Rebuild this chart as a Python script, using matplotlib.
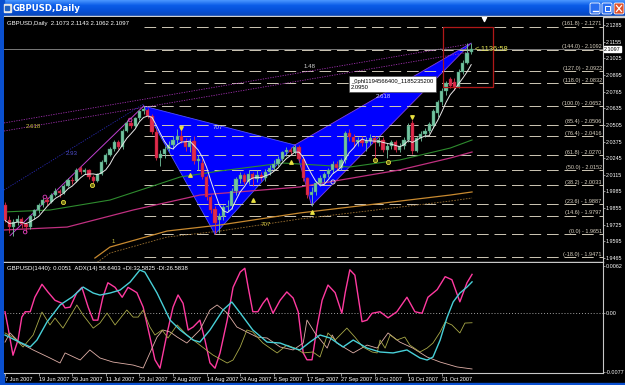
import matplotlib
matplotlib.use('Agg')
import matplotlib.pyplot as plt
import matplotlib.patches as mpatches
from matplotlib.colors import LinearSegmentedColormap
import numpy as np
import pandas as pd

plt.rcParams['font.family'] = ['Liberation Sans', 'DejaVu Sans']

# ---------------------------------------------------------------
# GBPUSD Daily, bar 0 = 7 Jun 2007 ... bar 111 = 9 Nov 2007
# ---------------------------------------------------------------
opens = [1.9880, 1.9760, 1.9710, 1.9745, 1.9770, 1.9730, 1.9710, 1.9790, 1.9840, 1.9880,
         1.9920, 1.9905, 1.9960, 1.9990, 1.9975, 2.0030, 2.0075, 2.0065, 2.0170, 2.0140,
         2.0155, 2.0095, 2.0070, 2.0120, 2.0215, 2.0270, 2.0320, 2.0370, 2.0330, 2.0460,
         2.0520, 2.0500, 2.0555, 2.0610, 2.0625, 2.0575, 2.0450, 2.0250, 2.0280, 2.0320,
         2.0345, 2.0390, 2.0420, 2.0380, 2.0330, 2.0380, 2.0220, 2.0210, 2.0100, 1.9940,
         1.9850, 1.9760, 1.9790, 1.9860, 1.9870, 1.9990, 2.0080, 2.0110, 2.0060, 2.0120,
         2.0080, 2.0110, 2.0090, 2.0140, 2.0170, 2.0200, 2.0240, 2.0290, 2.0310, 2.0290,
         2.0330, 2.0240, 2.0090, 1.9960, 1.9980, 2.0050, 2.0090, 2.0120, 2.0150, 2.0200,
         2.0170, 2.0230, 2.0440, 2.0410, 2.0370, 2.0390, 2.0360, 2.0380, 2.0400, 2.0360,
         2.0390, 2.0310, 2.0340, 2.0370, 2.0310, 2.0340, 2.0390, 2.0520, 2.0300, 2.0400,
         2.0430, 2.0460, 2.0500, 2.0600, 2.0680, 2.0770, 2.0860, 2.0840, 2.0800, 2.0920,
         2.0990, 2.1073]
highs = [1.9905, 1.9790, 1.9770, 1.9800, 1.9785, 1.9750, 1.9800, 1.9850, 1.9895, 1.9935,
         1.9940, 1.9975, 2.0010, 2.0005, 2.0045, 2.0090, 2.0095, 2.0165, 2.0185, 2.0170,
         2.0160, 2.0110, 2.0130, 2.0230, 2.0285, 2.0335, 2.0385, 2.0390, 2.0475, 2.0540,
         2.0545, 2.0570, 2.0625, 2.0652, 2.0640, 2.0590, 2.0470, 2.0310, 2.0340, 2.0380,
         2.0420, 2.0470, 2.0480, 2.0400, 2.0400, 2.0420, 2.0270, 2.0240, 2.0110, 1.9960,
         1.9870, 1.9820, 1.9880, 1.9920, 2.0010, 2.0100, 2.0140, 2.0130, 2.0150, 2.0140,
         2.0150, 2.0140, 2.0160, 2.0190, 2.0230, 2.0260, 2.0300, 2.0330, 2.0330, 2.0348,
         2.0345, 2.0250, 2.0100, 2.0020, 2.0070, 2.0110, 2.0140, 2.0170, 2.0220, 2.0220,
         2.0250, 2.0460, 2.0470, 2.0430, 2.0410, 2.0420, 2.0410, 2.0430, 2.0420, 2.0410,
         2.0410, 2.0360, 2.0390, 2.0390, 2.0360, 2.0410, 2.0520, 2.0540, 2.0420, 2.0460,
         2.0480, 2.0530, 2.0630, 2.0700, 2.0790, 2.0850, 2.0880, 2.0870, 2.0940, 2.1010,
         2.1144, 2.1143]
lows = [1.9745, 1.9660, 1.9640, 1.9720, 1.9700, 1.9670, 1.9695, 1.9770, 1.9820, 1.9865,
        1.9880, 1.9895, 1.9950, 1.9940, 1.9965, 2.0020, 2.0045, 2.0060, 2.0120, 2.0120,
        2.0080, 2.0030, 2.0060, 2.0110, 2.0200, 2.0260, 2.0300, 2.0315, 2.0320, 2.0450,
        2.0480, 2.0490, 2.0540, 2.0590, 2.0560, 2.0430, 2.0230, 2.0180, 2.0250, 2.0300,
        2.0320, 2.0360, 2.0360, 2.0300, 2.0290, 2.0200, 2.0150, 2.0080, 1.9920, 1.9820,
        1.9651, 1.9660, 1.9760, 1.9830, 1.9850, 1.9960, 2.0050, 2.0040, 2.0040, 2.0030,
        2.0060, 2.0070, 2.0070, 2.0110, 2.0150, 2.0180, 2.0220, 2.0260, 2.0270, 2.0280,
        2.0220, 2.0070, 1.9930, 1.9875, 1.9960, 2.0030, 2.0060, 2.0100, 2.0130, 2.0150,
        2.0150, 2.0210, 2.0380, 2.0330, 2.0340, 2.0340, 2.0300, 2.0350, 2.0250, 2.0340,
        2.0290, 2.0250, 2.0320, 2.0290, 2.0290, 2.0320, 2.0370, 2.0280, 2.0290, 2.0380,
        2.0410, 2.0440, 2.0480, 2.0570, 2.0660, 2.0740, 2.0790, 2.0780, 2.0790, 2.0900,
        2.0980, 2.1062]
closes = [1.9760, 1.9710, 1.9745, 1.9770, 1.9730, 1.9710, 1.9790, 1.9840, 1.9880, 1.9920,
          1.9905, 1.9960, 1.9990, 1.9975, 2.0030, 2.0075, 2.0065, 2.0150, 2.0140, 2.0155,
          2.0095, 2.0070, 2.0120, 2.0215, 2.0270, 2.0320, 2.0370, 2.0330, 2.0460, 2.0520,
          2.0500, 2.0555, 2.0610, 2.0630, 2.0575, 2.0450, 2.0250, 2.0280, 2.0320, 2.0345,
          2.0390, 2.0420, 2.0380, 2.0330, 2.0370, 2.0220, 2.0240, 2.0100, 1.9940, 1.9840,
          1.9740, 1.9790, 1.9860, 1.9870, 1.9990, 2.0080, 2.0110, 2.0060, 2.0120, 2.0080,
          2.0110, 2.0090, 2.0140, 2.0170, 2.0200, 2.0240, 2.0290, 2.0310, 2.0290, 2.0330,
          2.0240, 2.0090, 1.9960, 1.9980, 2.0050, 2.0090, 2.0120, 2.0150, 2.0200, 2.0170,
          2.0230, 2.0440, 2.0410, 2.0370, 2.0390, 2.0360, 2.0380, 2.0400, 2.0360, 2.0390,
          2.0310, 2.0340, 2.0370, 2.0310, 2.0340, 2.0390, 2.0500, 2.0300, 2.0400, 2.0430,
          2.0460, 2.0510, 2.0610, 2.0680, 2.0770, 2.0830, 2.0810, 2.0800, 2.0920, 2.0990,
          2.1070, 2.1097]

date_ticks = [0, 8, 16, 24, 32, 40, 48, 56, 64, 72, 80, 88, 96, 104]
date_labels = ['7 Jun 2007', '19 Jun 2007', '29 Jun 2007', '11 Jul 2007', '23 Jul 2007',
               '2 Aug 2007', '14 Aug 2007', '24 Aug 2007', '5 Sep 2007', '17 Sep 2007',
               '27 Sep 2007', '9 Oct 2007', '19 Oct 2007', '31 Oct 2007']

price_ticks = [2.1285, 2.1155, 2.1025, 2.0895, 2.0765, 2.0635, 2.0505, 2.0375,
               2.0245, 2.0115, 1.9985, 1.9855, 1.9725, 1.9595, 1.9465]

fib_pct = [161.8, 144.0, 127.0, 118.0, 100.0, 85.4, 76.4, 61.8, 50.0, 38.2, 23.6, 14.6, 0.0, -18.0]
fib_price = [2.1271, 2.1092, 2.0922, 2.0832, 2.0652, 2.0506, 2.0416, 2.0270, 2.0152,
             2.0033, 1.9887, 1.9797, 1.9651, 1.9471]

# pontos X A B C D do padrao
pat_bar = [33, 50, 69, 73, 111]
pat_price = [2.0652, 1.9651, 2.0348, 1.9875, 2.1144]

# medias moveis longas
ma_green_x = [-0.2, 10.7, 25, 34.5, 41.7, 51.2, 66.2, 82.1, 94, 106, 111.2]
ma_green_y = [1.9825, 1.9840, 1.9918, 2.0020, 2.0098, 2.0145, 2.0207, 2.0176, 2.0231, 2.0324, 2.0387]
ma_pink_x = [-0.2, 14.8, 30.5, 46.4, 70.2, 79.8, 94, 106, 111.2]
ma_pink_y = [1.9684, 1.9707, 1.9840, 1.9957, 2.0020, 2.0074, 2.0153, 2.0246, 2.0293]
ma_orange_x = [21.4, 25, 38.6, 51.2, 70.2, 86.2, 106, 111.2]
ma_orange_y = [1.9465, 1.9551, 1.9676, 1.9723, 1.9817, 1.9879, 1.9957, 1.9981]
ma_orange2_y = [1.9418, 1.9504, 1.9629, 1.9676, 1.9770, 1.9832, 1.9910, 1.9934]

# linhas de canal pontilhadas
chan_x = [-0.24, 110.7]
chan_purple_a = [2.0520, 2.1137]
chan_purple_b = [2.0457, 2.1074]
chan_blue_x = [-0.24, 33]
chan_blue = [1.9996, 2.0668]
zig_x = [1.2, 33]
zig_y = [1.9640, 2.0652]

# marcadores
yel_circ_x = [13.8, 20.7, 88.1, 91.2]
yel_circ_y = [1.9903, 2.0035, 2.0231, 2.0215]
pink_circ_x = [4.8, 9.5, 29.8]
pink_circ_y = [1.9668, 1.9942, 2.0543]
up_tri_x = [44, 59, 68.1, 73.1]
up_tri_y = [2.0114, 1.9918, 2.0215, 1.9825]
dn_tri_x = [41.9, 96.9]
dn_tri_y = [2.0481, 2.0566]

# ---------------------------------------------------------------
# painel inferior
# ---------------------------------------------------------------
mom_x = [0.0, 0.7, 1.9, 3.1, 4.0, 4.8, 6.0, 7.1, 8.8, 10.2, 11.9, 13.6, 14.3, 15.5, 17.1, 18.3,
         19.8, 21.0, 22.1, 23.3, 24.5, 26.2, 27.9, 29.3, 31.4, 32.9, 34.5, 35.7, 36.9, 38.6,
         40.0, 41.2, 42.4, 43.6, 44.8, 46.4, 47.6, 48.8, 50.0, 51.2, 52.9, 54.3, 56.0, 57.1,
         57.9, 59.0, 60.2, 61.4, 62.4, 63.8, 65.5, 67.1, 68.6, 69.8, 71.0, 71.9, 73.1, 74.3,
         75.5, 76.9, 78.6, 80.2, 81.0, 82.1, 83.3, 85.0, 86.2, 87.4, 89.3, 91.2, 93.3, 95.7,
         97.6, 99.3, 100.7, 102.9, 104.8, 106.4, 108.3, 110.0, 111.2]
mom_y = [0.0002, -0.0018, -0.0055, -0.0035, -0.0005, 0.0002, 0.0002, 0.0021, 0.0038, 0.0028,
         0.0017, 0.0013, 0.0007, 0.0008, 0.0027, 0.0034, 0.0008, -0.0009, -0.0009, 0.0021,
         0.0040, 0.0034, 0.0021, 0.0034, 0.0027, 0.0008, -0.0031, -0.0061, -0.0072, -0.0026,
         0.0008, 0.0024, 0.0013, -0.0022, -0.0018, -0.0009, -0.0035, -0.0065, -0.0072, -0.0052,
         -0.0009, 0.0034, 0.0054, 0.0059, 0.0034, 0.0002, 0.0002, 0.0013, 0.0020, 0.0000,
         0.0017, 0.0028, 0.0020, 0.0002, -0.0052, -0.0061, -0.0061, -0.0018, 0.0017, 0.0037,
         0.0027, 0.0000, 0.0027, 0.0057, 0.0050, -0.0011, -0.0009, 0.0000, 0.0002, -0.0006,
         0.0002, 0.0021, 0.0002, 0.0000, 0.0021, 0.0031, 0.0048, 0.0044, 0.0015, 0.0040, 0.0051]

adx_x = [0.0, 2.4, 6.0, 7.6, 10.0, 13.1, 16.0, 18.6, 21.0, 22.6, 25.0, 27.4, 29.8, 32.1, 33.3,
         36.2, 39.3, 41.7, 44.8, 46.4, 48.8, 51.9, 54.0, 56.0, 59.0, 62.4, 65.5, 68.6, 70.2,
         72.6, 75.0, 77.4, 80.5, 82.9, 86.2, 89.3, 92.4, 95.7, 98.8, 100.5, 101.9, 103.6,
         105.2, 106.7, 108.3, 110.0, 111.2]
adx_y = [24.8, 21.6, 17.2, 21.6, 33.1, 43.9, 49.0, 55.3, 51.5, 50.2, 51.5, 53.4, 58.5, 66.1, 64.8,
         51.5, 34.3, 28.0, 21.6, 20.3, 28.0, 40.7, 45.8, 38.8, 28.0, 20.3, 19.7, 16.5, 15.3,
         20.3, 24.8, 22.9, 17.2, 21.6, 16.5, 14.0, 13.4, 15.3, 10.2, 8.9, 10.8, 21.6,
         35.6, 45.8, 51.5, 55.3, 58.6]

pdi_x = [0.0, 1.9, 4.3, 6.7, 8.8, 10.7, 11.9, 13.8, 17.1, 18.6, 21.0, 22.6, 24.3, 26.2, 29.0,
         30.5, 31.7, 32.9, 34.5, 35.7, 37.4, 38.8, 41.0, 43.3, 46.4, 49.5, 52.9, 54.3, 56.0,
         57.6, 59.0, 61.4, 63.1, 64.8, 67.1, 69.0, 71.0, 73.3, 75.0, 76.9, 78.6, 81.4, 83.3,
         85.2, 87.4, 88.6, 89.3, 90.5, 91.7, 93.3, 95.2, 96.4, 98.8, 100.5, 101.9, 103.6,
         104.8, 106.4, 108.3, 109.5, 111.2]
pdi_y = [26.1, 23.5, 17.2, 24.8, 39.4, 31.2, 35.6, 29.2, 43.9, 37.5, 29.2, 32.4, 38.8, 31.2, 40.7,
         36.2, 36.2, 40.7, 29.9, 24.8, 28.0, 22.9, 31.2, 24.8, 18.4, 12.1, 7.0, 8.9, 17.2,
         28.0, 26.7, 19.7, 16.5, 13.4, 18.4, 16.5, 13.4, 14.0, 10.8, 26.1, 21.6, 29.2, 23.5,
         17.2, 14.0, 13.4, 21.6, 16.5, 24.8, 21.6, 23.5, 18.4, 14.0, 16.5, 19.7, 26.7,
         33.1, 31.2, 26.1, 32.4, 32.6]

mdi_x = [0.0, 1.2, 3.6, 6.7, 10.7, 13.1, 14.3, 17.9, 20.2, 22.6, 25.7, 30.5, 32.9, 34.5, 36.2,
         37.6, 39.3, 41.0, 43.3, 46.4, 48.8, 50.5, 52.9, 55.2, 57.6, 60.0, 62.4, 65.5, 68.6,
         71.0, 71.9, 73.8, 76.7, 77.9, 79.0, 82.9, 86.2, 88.6, 91.2, 94.0, 97.1, 100.5,
         103.6, 107.6, 111.2]
mdi_y = [20.3, 26.1, 19.7, 15.3, 10.2, 7.0, 13.4, 8.9, 15.3, 10.2, 7.6, 5.7, 3.8, 13.4, 23.5,
         28.0, 26.7, 23.5, 19.7, 28.0, 40.7, 43.9, 38.8, 29.9, 26.7, 23.5, 22.9, 17.2, 15.3,
         19.7, 34.3, 26.1, 16.5, 24.8, 19.7, 13.4, 18.4, 16.5, 26.1, 20.3, 16.5, 10.8,
         7.6, 4.5, 3.2]

# ---------------------------------------------------------------
fs = 3.9
xmin, xmax = -0.24, 142.38

fig = plt.figure(figsize=(6.25, 3.85), dpi=100, facecolor='black')

# moldura da janela (coordenadas em pixels)
chrome = fig.add_axes([0, 0, 1, 1])
chrome.set_facecolor('black')
grad = np.linspace(0, 1, 32).reshape(-1, 1)
cmap_bar = LinearSegmentedColormap.from_list('xp', ['#4a96ff', '#0a5ce8', '#0650d8', '#0a46b8'])
chrome.imshow(grad, cmap=cmap_bar, extent=(0, 625, 16, 0), aspect='auto')
chrome.add_patch(mpatches.Rectangle((0, 0), 3.5, 385, color='#0a50d0'))
chrome.add_patch(mpatches.Rectangle((0, 383), 625, 2, color='#0a50d0'))
chrome.add_patch(mpatches.Rectangle((4, 16), 621, 1.2, color='#d0d0d0'))
chrome.add_patch(mpatches.Rectangle((3.5, 3.5), 7, 8, color='#e8e8e8'))
chrome.add_patch(mpatches.Rectangle((5, 5.5), 4, 4, color='#2060c0'))
for bx, col in [(590, '#2a6ef0'), (602, '#2a6ef0'), (614, '#e0502a')]:
    chrome.add_patch(mpatches.FancyBboxPatch((bx, 3), 10, 11, boxstyle='round,pad=0,rounding_size=1.5',
                                             fc=col, ec='white', lw=0.6))
chrome.plot([592.5, 597.5], [11, 11], color='white', lw=1.0)
chrome.add_patch(mpatches.Rectangle((604.5, 5.5), 5, 5, fill=False, ec='white', lw=0.7))
chrome.plot([616.5, 621.5], [5.5, 11.5], color='white', lw=0.9)
chrome.plot([616.5, 621.5], [11.5, 5.5], color='white', lw=0.9)
chrome.text(13, 8.5, 'GBPUSD,Daily', color='white', fontsize=6.2, fontweight='bold', va='center',
            family=['DejaVu Sans'])
chrome.set_xlim(0, 625)
chrome.set_ylim(385, 0)
chrome.axis('off')

# ---------------------------------------------------------------
# grafico de precos
# ---------------------------------------------------------------
ax = fig.add_axes([4 / 625, 1 - 262 / 385, 599 / 625, 245 / 385])
ax.set_facecolor('black')

x = np.arange(len(closes))
o = np.array(opens)
c = np.array(closes)
up = c >= o

# padrao harmonico (atras dos candles)
ax.fill([pat_bar[0], pat_bar[1], pat_bar[2]], [pat_price[0], pat_price[1], pat_price[2]],
        color='#0000ff', zorder=1, lw=0)
ax.fill([pat_bar[2], pat_bar[3], pat_bar[4]], [pat_price[2], pat_price[3], pat_price[4]],
        color='#0000ff', zorder=1, lw=0)
ax.plot(pat_bar[:3] + [pat_bar[0]], pat_price[:3] + [pat_price[0]], color='#5050ff', lw=0.6, zorder=1.5)
ax.plot([pat_bar[2], pat_bar[3], pat_bar[4], pat_bar[2]],
        [pat_price[2], pat_price[3], pat_price[4], pat_price[2]], color='#8040e0', lw=0.6, zorder=1.5)

# niveis de fibonacci
ax.hlines(fib_price, pat_bar[0], xmax, colors='#cfc8b6', linestyles=(0, (12, 6)), lw=0.7, zorder=2)
for pct, pr in zip(fib_pct, fib_price):
    ax.text(xmax - 0.3, pr + 0.0003, f'({pct:.1f}) - {pr:.4f}', color='#d8d0c0', fontsize=4.0,
            ha='right', va='bottom', zorder=6)

# canais e medias
ax.plot(chan_x, chan_purple_a, color='#a030b0', lw=0.6, ls=(0, (1.5, 1.5)), zorder=2)
ax.plot(chan_x, chan_purple_b, color='#a030b0', lw=0.6, ls=(0, (1.5, 1.5)), zorder=2)
ax.plot(chan_blue_x, chan_blue, color='#2828b0', lw=0.6, ls=(0, (1.5, 1.5)), zorder=2)
ax.plot(ma_green_x, ma_green_y, color='#2e8b2e', lw=0.8, zorder=2)
ax.plot(ma_pink_x, ma_pink_y, color='#c03080', lw=0.9, zorder=2)
ax.plot(ma_orange_x, ma_orange_y, color='#c88a30', lw=0.9, zorder=2)
ax.plot(ma_orange_x, ma_orange2_y, color='#9a7030', lw=0.6, ls=(0, (2, 1.5)), zorder=2)
ax.plot(zig_x, zig_y, color='#c040d0', lw=0.7, zorder=2)

# candles
body_fc = np.where(up, '#74c4a0', '#e02c4c')
body_ec = np.where(up, '#3e8c6c', '#a01830')
ax.vlines(x, lows, highs, colors=body_fc, lw=0.6, zorder=3)
ax.bar(x, np.maximum(np.abs(c - o), 0.0002), bottom=np.minimum(o, c), width=0.72,
       color=body_fc, edgecolor=body_ec, lw=0.3, zorder=4)

sma = pd.Series(closes).rolling(5, min_periods=1).mean()
ax.plot(x, sma, color='#e8e8e8', lw=0.7, zorder=5)

ax.axhline(2.1097, color='#8c8c8c', lw=0.6, zorder=2)

# marcadores
ax.scatter(yel_circ_x, yel_circ_y, s=9, facecolor='#6a6a10', edgecolor='#e8e040', lw=0.6, zorder=6)
ax.scatter(pink_circ_x, pink_circ_y, s=7, facecolor='none', edgecolor='#e040c0', lw=0.6, zorder=6)
ax.scatter(up_tri_x, up_tri_y, s=6, marker='^', color='#e8e040', zorder=6)
ax.scatter(dn_tri_x, dn_tri_y, s=6, marker='v', color='#e8e040', zorder=6)
ax.scatter([78.1], [2.0059], s=9, facecolor='none', edgecolor='#e0e0e0', lw=0.6, zorder=6)
ax.scatter([114], [2.1331], s=9, marker='v', color='white', zorder=6)

# textos do padrao
ax.text(6.7, 2.0496, '2.618', color='#c8c040', fontsize=4.4, ha='center', va='center', zorder=6)
ax.text(16, 2.0285, '2.93', color='#5050d0', fontsize=4.4, ha='center', va='center', zorder=6)
ax.text(25.7, 1.9598, '1', color='#c8c040', fontsize=4.4, ha='center', va='center', zorder=6)
ax.text(50.7, 2.0483, '707', color='#d0d0d0', fontsize=4.4, ha='center', va='center', zorder=6)
ax.text(62, 1.9723, '707', color='#c8c040', fontsize=4.4, ha='center', va='center', zorder=6)
ax.text(72.6, 2.0957, '1.48', color='#d0d0d0', fontsize=4.4, ha='center', va='center', zorder=6)
ax.text(90, 2.0730, '2.618', color='#c8c8ff', fontsize=4.4, ha='center', va='center', zorder=6)

ax.text(82.4, 2.0866, '_0phl1194566400_1185235200\n2.0950', color='black', fontsize=4.2,
        ha='left', va='top', linespacing=1.25, zorder=8,
        bbox=dict(boxstyle='square,pad=0.4', fc='white', ec='#404040', lw=0.4))
ax.add_patch(mpatches.Rectangle((104.3, 2.0801), 11.9, 0.0468, fill=False, ec='#b01818', lw=0.9, zorder=7))
ax.text(111.8, 2.1090, '<-1136:58', color='#e0e050', fontsize=5.4, ha='left', va='center', zorder=8)

ax.text(0.005, 0.985, 'GBPUSD,Daily  2.1073 2.1143 2.1062 2.1097', transform=ax.transAxes,
        color='white', fontsize=4.3, ha='left', va='top')

ax.set_xlim(xmin, xmax)
ax.set_ylim(1.9434, 2.13475)
ax.set_xticks([])
ax.yaxis.tick_right()
ax.set_yticks(price_ticks)
ax.set_yticklabels([f'{p:.4f}' for p in price_ticks])
ax.tick_params(axis='y', colors='#c8c8c8', labelcolor='white', labelsize=fs, length=1.5, width=0.5, pad=0.6)
for s in ['top', 'left']:
    ax.spines[s].set_visible(False)
ax.spines['right'].set_color('#c8c8c8')
ax.spines['bottom'].set_color('#c8c8c8')
ax.spines['right'].set_linewidth(0.8)
ax.spines['bottom'].set_linewidth(1.0)
ax.text(1.002, 2.1097, '2.1097', transform=ax.get_yaxis_transform(), color='black', fontsize=fs,
        ha='left', va='center', bbox=dict(boxstyle='square,pad=0.12', fc='white', ec='white'))

# ---------------------------------------------------------------
# indicador
# ---------------------------------------------------------------
axi = fig.add_axes([4 / 625, 1 - 373 / 385, 599 / 625, 110 / 385])
axi.set_facecolor('black')
axa = axi.twinx()

axi.axhline(0, color='#a0a0a0', lw=0.7, ls=(0, (1, 2)))
axi.plot(mom_x, mom_y, color='#ff3aa0', lw=1.0)
axi.set_xlim(xmin, xmax)
axi.set_ylim(-0.00783, 0.00659)
axi.yaxis.tick_right()
axi.yaxis.set_label_position('right')
axi.set_yticks([0.0062, 0.0, -0.0077])
axi.set_yticklabels(['0.0062', '0.00', '-0.0077'])
axi.tick_params(axis='y', left=False, labelleft=False, right=True, labelright=True,
                colors='#c8c8c8', labelcolor='white', labelsize=fs, length=1.5, width=0.5, pad=0.6)
axi.set_xticks(date_ticks)
axi.set_xticklabels(date_labels, ha='left')
axi.tick_params(axis='x', colors='#c8c8c8', labelcolor='white', labelsize=4.0, length=2,
                width=0.5, pad=0.8)
for s in ['top', 'left']:
    axi.spines[s].set_visible(False)
axi.spines['right'].set_color('#c8c8c8')
axi.spines['bottom'].set_color('#c8c8c8')
axi.spines['right'].set_linewidth(0.8)
axi.spines['bottom'].set_linewidth(0.8)
axi.text(0.005, 0.975, 'GBPUSD(1440): 0.0051  ADX(14) 58.6403 +DI:32.5825 -DI:26.5838',
         transform=axi.transAxes, color='white', fontsize=4.3, ha='left', va='top')

axa.plot(mdi_x, mdi_y, color='#e0b0a8', lw=0.6)
axa.plot(pdi_x, pdi_y, color='#a8a848', lw=0.6)
axa.plot(adx_x, adx_y, color='#48d0d8', lw=1.0)
axa.set_ylim(0.64, 70.6)
axa.set_xlim(xmin, xmax)
axa.set_yticks([])
axa.tick_params(axis='y', left=False, right=False, labelleft=False, labelright=False)
for s in axa.spines.values():
    s.set_visible(False)

fig.savefig('out.png', dpi=100, facecolor='black')
